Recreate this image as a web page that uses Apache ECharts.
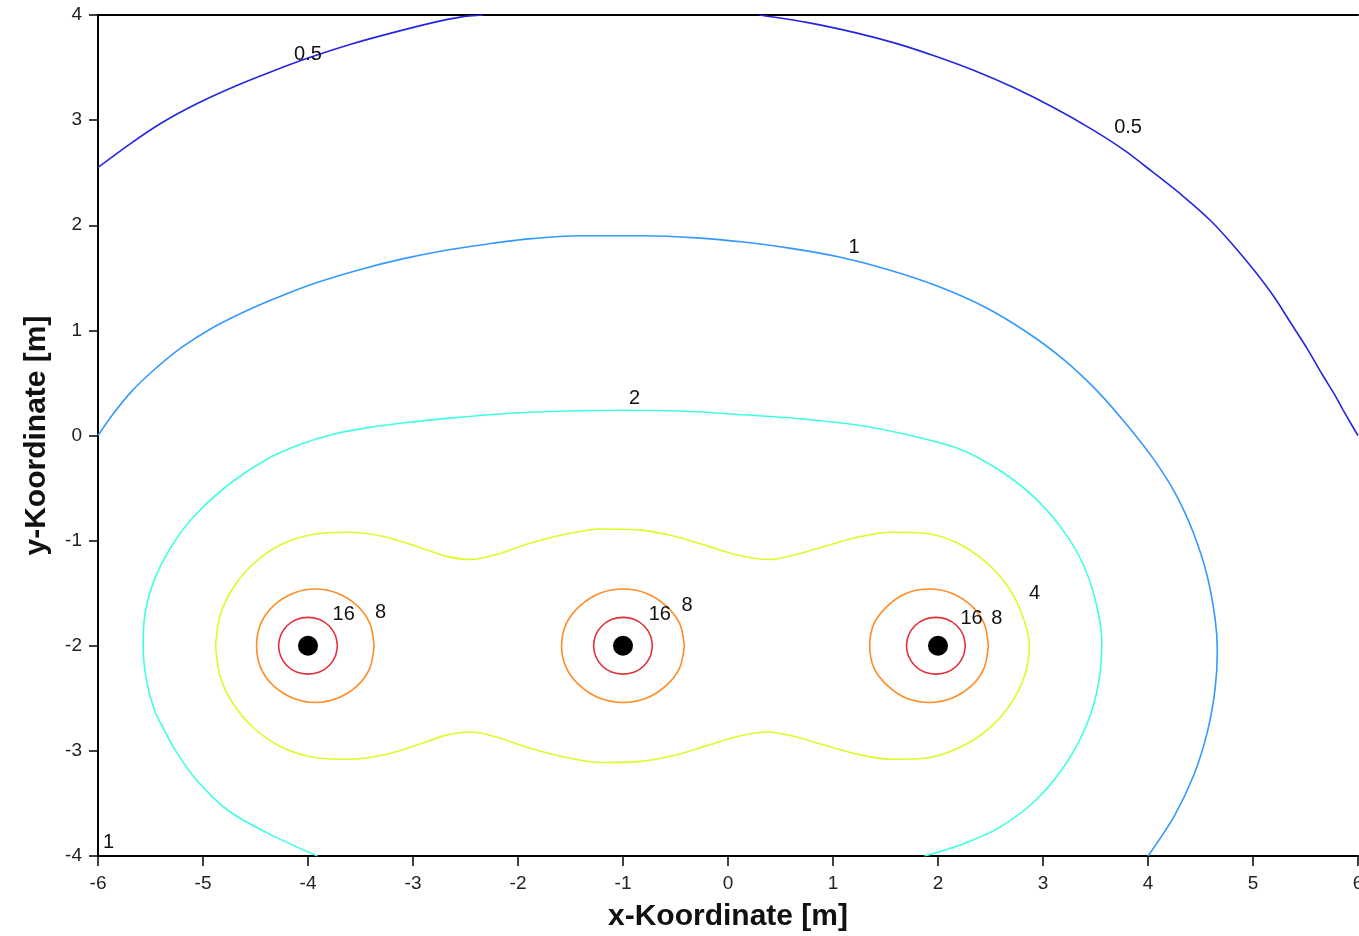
<!DOCTYPE html>
<html><head><meta charset="utf-8">
<script src="https://cdn.jsdelivr.net/npm/echarts@6/dist/echarts.min.js"></script>
<style>html,body{margin:0;padding:0;background:#fff}#c{width:1359px;height:936px}</style>
</head><body><div id="c"></div>
<script>
// Source positions
const sources = [[-4, -2], [-1, -2], [2, -2]];

// Contour level 0.5 (two clipped arcs)
const c05Left = [[-6.0,2.55],[-5.70,2.77],[-5.40,2.97],[-5.05,3.16],[-4.70,3.32],[-4.35,3.46],[-4.0,3.59],[-3.60,3.72],[-3.20,3.83],[-2.80,3.93],[-2.55,3.98],[-2.33,4.0]];
const c05Right = [[0.30,4.0],[0.75,3.93],[1.22,3.83],[1.60,3.73],[1.97,3.61],[2.35,3.47],[2.72,3.31],[3.10,3.12],[3.47,2.91],[3.78,2.71],[4.04,2.51],[4.33,2.28],[4.60,2.04],[4.82,1.80],[5.02,1.56],[5.20,1.32],[5.36,1.07],[5.52,0.82],[5.66,0.58],[5.77,0.40],[5.86,0.24],[5.94,0.10],[6.0,0.0]];

// Contour level 1
const c1 = [[-6.0,0.0],[-5.86,0.20],[-5.68,0.42],[-5.46,0.63],[-5.20,0.84],[-4.90,1.03],[-4.58,1.19],[-4.25,1.33],[-3.90,1.46],[-3.50,1.58],[-3.10,1.68],[-2.70,1.76],[-2.30,1.82],[-1.90,1.87],[-1.40,1.90],[-0.80,1.90],[-0.30,1.88],[0.15,1.84],[0.60,1.78],[1.05,1.70],[1.52,1.58],[2.0,1.42],[2.45,1.22],[2.85,0.98],[3.20,0.72],[3.52,0.42],[3.80,0.10],[4.05,-0.22],[4.26,-0.55],[4.43,-0.92],[4.56,-1.32],[4.64,-1.75],[4.66,-2.05],[4.64,-2.40],[4.57,-2.80],[4.44,-3.22],[4.25,-3.62],[4.0,-4.0]];

// Contour level 2
const c2 = [[-3.91,-4.0],[-4.39,-3.78],[-4.77,-3.56],[-5.06,-3.28],[-5.26,-3.00],[-5.37,-2.80],[-5.46,-2.62],[-5.54,-2.32],[-5.57,-2.00],[-5.55,-1.68],[-5.45,-1.34],[-5.26,-0.99],[-5.04,-0.72],[-4.72,-0.44],[-4.40,-0.23],[-4.09,-0.09],[-3.77,0.01],[-3.40,0.08],[-3.00,0.13],[-2.60,0.17],[-2.10,0.21],[-1.60,0.23],[-1.0,0.24],[-0.40,0.23],[0.10,0.20],[0.68,0.16],[1.23,0.10],[1.70,0.01],[2.21,-0.13],[2.60,-0.34],[2.93,-0.60],[3.19,-0.90],[3.38,-1.22],[3.50,-1.57],[3.56,-1.95],[3.53,-2.35],[3.42,-2.74],[3.22,-3.12],[2.94,-3.46],[2.60,-3.72],[2.25,-3.88],[1.87,-4.0]];

// Contour level 4
const c4 = [[-4.88,-2.00],[-4.84,-1.72],[-4.72,-1.46],[-4.52,-1.22],[-4.26,-1.04],[-3.95,-0.94],[-3.62,-0.92],[-3.28,-0.96],[-2.95,-1.06],[-2.68,-1.15],[-2.44,-1.18],[-2.20,-1.13],[-1.90,-1.03],[-1.55,-0.94],[-1.21,-0.89],[-0.83,-0.90],[-0.50,-0.96],[-0.20,-1.05],[0.10,-1.14],[0.38,-1.18],[0.62,-1.14],[0.90,-1.06],[1.22,-0.97],[1.55,-0.92],[1.88,-0.93],[2.18,-1.02],[2.45,-1.20],[2.66,-1.43],[2.80,-1.70],[2.87,-2.00],[2.82,-2.30],[2.68,-2.57],[2.47,-2.80],[2.20,-2.97],[1.88,-3.07],[1.55,-3.08],[1.22,-3.03],[0.90,-2.94],[0.62,-2.86],[0.38,-2.82],[0.10,-2.86],[-0.20,-2.95],[-0.50,-3.04],[-0.83,-3.10],[-1.21,-3.11],[-1.55,-3.06],[-1.90,-2.97],[-2.20,-2.87],[-2.44,-2.82],[-2.68,-2.85],[-2.95,-2.94],[-3.28,-3.04],[-3.62,-3.08],[-3.95,-3.06],[-4.26,-2.96],[-4.52,-2.78],[-4.72,-2.54],[-4.84,-2.28],[-4.88,-2.00]];

// Contour level 8 (one ring per source)
const c8Left = [[-3.37,-2.00],[-3.41,-1.79],[-3.53,-1.62],[-3.72,-1.50],[-3.93,-1.46],[-4.14,-1.50],[-4.33,-1.62],[-4.45,-1.79],[-4.49,-2.00],[-4.45,-2.21],[-4.33,-2.38],[-4.14,-2.50],[-3.93,-2.54],[-3.72,-2.50],[-3.53,-2.38],[-3.41,-2.21],[-3.37,-2.00]];
const c8Mid = [[-0.415,-2.00],[-0.46,-1.79],[-0.59,-1.62],[-0.78,-1.50],[-1.00,-1.46],[-1.22,-1.50],[-1.41,-1.62],[-1.54,-1.79],[-1.585,-2.00],[-1.54,-2.21],[-1.41,-2.38],[-1.22,-2.50],[-1.00,-2.54],[-0.78,-2.50],[-0.59,-2.38],[-0.46,-2.21],[-0.415,-2.00]];
const c8Right = [[2.48,-2.00],[2.44,-1.79],[2.32,-1.62],[2.13,-1.50],[1.92,-1.46],[1.70,-1.50],[1.52,-1.62],[1.39,-1.79],[1.35,-2.00],[1.39,-2.21],[1.52,-2.38],[1.70,-2.50],[1.92,-2.54],[2.13,-2.50],[2.32,-2.38],[2.44,-2.21],[2.48,-2.00]];

// Contour level 16 (one ring per source)
const c16Left = [[-3.72,-2.00],[-3.74,-1.90],[-3.80,-1.81],[-3.89,-1.75],[-4.00,-1.73],[-4.11,-1.75],[-4.20,-1.81],[-4.26,-1.90],[-4.28,-2.00],[-4.26,-2.10],[-4.20,-2.19],[-4.11,-2.25],[-4.00,-2.27],[-3.89,-2.25],[-3.80,-2.19],[-3.74,-2.10],[-3.72,-2.00]];
const c16Mid = [[-0.72,-2.00],[-0.74,-1.90],[-0.80,-1.81],[-0.89,-1.75],[-1.00,-1.73],[-1.11,-1.75],[-1.20,-1.81],[-1.26,-1.90],[-1.28,-2.00],[-1.26,-2.10],[-1.20,-2.19],[-1.11,-2.25],[-1.00,-2.27],[-0.89,-2.25],[-0.80,-2.19],[-0.74,-2.10],[-0.72,-2.00]];
const c16Right = [[2.26,-2.00],[2.24,-1.90],[2.18,-1.81],[2.09,-1.75],[1.98,-1.73],[1.87,-1.75],[1.78,-1.81],[1.72,-1.90],[1.70,-2.00],[1.72,-2.10],[1.78,-2.19],[1.87,-2.25],[1.98,-2.27],[2.09,-2.25],[2.18,-2.19],[2.24,-2.10],[2.26,-2.00]];

// Contour labels: text and data position
const labelTexts = ['0.5','0.5','1','1','2','4','16','8','16','8','16','8'];
const labelX = [-4.0, 3.81, 1.20, -5.90, -0.89, 2.92, -3.66, -3.31, -0.65, -0.39, 2.32, 2.56];
const labelY = [3.62, 2.93, 1.79, -3.87, 0.35, -1.50, -1.70, -1.68, -1.70, -1.62, -1.74, -1.74];

const xName = 'x-Koordinate [m]';
const yName = 'y-Koordinate [m]';

const lineDefs = [
  [c05Left, '#2626e0'], [c05Right, '#2626e0'],
  [c1, '#3399ff'],
  [c2, '#40ffe0'],
  [c4, '#d4ff28'],
  [c8Left, '#ff8c26'], [c8Mid, '#ff8c26'], [c8Right, '#ff8c26'],
  [c16Left, '#e03038'], [c16Mid, '#e03038'], [c16Right, '#e03038']
];

const FONT = 'Liberation Sans, Arial, sans-serif';
const series = lineDefs.map(([d, col]) => ({
  type: 'line', data: d, smooth: 0.3, showSymbol: false, symbol: 'none',
  lineStyle: { color: col, width: 1.6 }, silent: true, z: 2
}));
series.push({
  type: 'scatter', data: sources, symbol: 'circle', symbolSize: 20,
  itemStyle: { color: '#000', opacity: 1 }, silent: true, z: 3
});
series.push({
  type: 'scatter', symbolSize: 0, silent: true, z: 4,
  itemStyle: { opacity: 1 },
  data: labelTexts.map((t, i) => ({ value: [labelX[i], labelY[i]], name: t })),
  label: { show: true, position: 'inside', formatter: p => p.name,
    color: '#111', fontSize: 20, fontFamily: FONT }
});

const chart = echarts.init(document.getElementById('c'), null, { renderer: 'canvas' });
chart.setOption({
  animation: false,
  backgroundColor: '#fff',
  grid: { left: 98, right: 1, top: 15, bottom: 80, containLabel: false, outerBoundsMode: 'none' },
  xAxis: [{
    type: 'value', min: -6, max: 6, interval: 1, position: 'bottom',
    name: xName, nameLocation: 'middle', nameGap: 46,
    nameTextStyle: { fontSize: 30, fontWeight: 'bold', color: '#111', fontFamily: FONT },
    axisLine: { show: true, onZero: false, lineStyle: { color: '#000', width: 2 } },
    axisTick: { show: true, length: 10, lineStyle: { color: '#000', width: 1.5 } },
    axisLabel: { margin: 18, fontSize: 19, color: '#222', fontFamily: FONT, hideOverlap: false },
    splitLine: { show: false }
  }, {
    type: 'value', min: -6, max: 6, interval: 1, position: 'top',
    axisLine: { show: true, onZero: false, lineStyle: { color: '#000', width: 2 } },
    axisTick: { show: false }, axisLabel: { show: false }, splitLine: { show: false }
  }],
  yAxis: {
    type: 'value', min: -4, max: 4, interval: 1,
    name: yName, nameLocation: 'middle', nameGap: 46, nameRotate: 90,
    nameTextStyle: { fontSize: 30, fontWeight: 'bold', color: '#111', fontFamily: FONT },
    axisLine: { show: true, onZero: false, lineStyle: { color: '#000', width: 2 } },
    axisTick: { show: true, length: 9, lineStyle: { color: '#000', width: 1.5 } },
    axisLabel: { margin: 16, fontSize: 19, color: '#222', fontFamily: FONT },
    splitLine: { show: false }
  },
  series
});
</script>
</body></html>
